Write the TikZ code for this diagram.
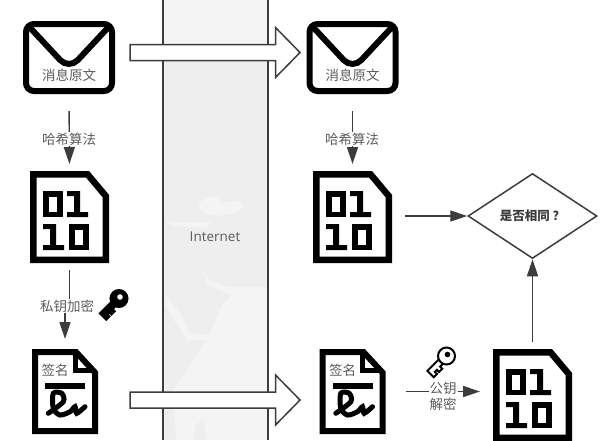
\documentclass[tikz,border=0pt]{standalone}
\usepackage{fontspec}
\setmainfont{Open Sans}
\newfontfamily\cjk{Noto Sans CJK SC}
\usetikzlibrary{positioning,arrows.meta,calc,shapes.geometric}
\definecolor{inkgray}{HTML}{3C3C3C}
\definecolor{textgray}{HTML}{5C5C5C}
\definecolor{seagray}{HTML}{EEEEEE}
\definecolor{landgray}{HTML}{F4F4F4}
\newcommand{\bitzero}[2]{\draw[line width=5.5pt] (#1+2.75,#2+2.75) rectangle (#1+17,#2+23.25);}
\newcommand{\bitone}[2]{\fill[shift={(#1,#2)}] (0,0) -- (13,0) -- (13,21) -- (21,21) -- (21,26) -- (0,26) -- (0,21) -- (7,21) -- (7,5) -- (0,5) -- cycle;}
\newcommand{\fatarrow}[2]{\draw[line width=1.5pt,draw=inkgray,fill=white,miter limit=8] ($(#1)+(0,-8)$) -- ($(#2)+(-24.5,-8)$) -- ($(#2)+(-24.5,-25)$) -- (#2) -- ($(#2)+(-24.5,25)$) -- ($(#2)+(-24.5,8)$) -- ($(#1)+(0,8)$) -- cycle;}
\tikzset{
  iconbox/.style={inner sep=0pt,outer sep=0pt},
  cjktext/.style={font=\cjk\fontsize{13.5}{16}\selectfont,text=textgray,inner sep=1pt},
  pics/mailicon/.style={code={
    \node[iconbox,minimum width=92pt,minimum height=73pt] (-box) at (0,0) {};
    \draw[line width=6pt,rounded corners=8pt] (-43,-33.5) rectangle (43,33.5);
    \draw[line width=6pt,rounded corners=13pt] (-41,-32) -- (0,12) -- (41,-32);
    \node[cjktext] (-name) at (0,18) {消息原文};
  }},
  pics/fileicon/.style={code={
    \node[iconbox,minimum width=79pt,minimum height=92pt] (-box) at (0,0) {};
    \draw[line width=6.5pt,miter limit=8] (-36.25,-42.75) -- (18,-42.75) -- (36.25,-21) -- (36.25,42.75) -- (-36.25,42.75) -- cycle;
    \bitzero{-26.5}{-26}
    \bitone{-2.5}{-26}
    \bitone{-26.5}{7}
    \bitzero{-0.5}{7}
  }},
  pics/signicon/.style={code={
    \node[iconbox,minimum width=66pt,minimum height=85pt] (-box) at (0,0) {};
    \draw[line width=6pt,miter limit=8] (-30,-39.5) -- (11,-39.5) -- (30,-19) -- (30,39.5) -- (-30,39.5) -- cycle;
    \draw[line width=5pt] (10,-38) -- (10,-21.5) -- (30,-21.5);
    \node[cjktext] (-name) at (-10,-21.5) {签名};
    \fill (-20,-8.5) rectangle (20,-2.5);
    \draw[line width=5pt,line cap=round] plot[smooth] coordinates {(-16.7,21.8) (-1.7,10.2) (-3.3,1.8) (-11.7,1.8) (-11.7,16.8) (-5,23.5) (5,20.2) (10,15.2) (11.7,21.8) (20,15.2)};
  }},
  pics/keyicon/.style 2 args={code={
    \draw[line width=2pt,fill=#1,rotate=225,line join=miter] (0,3) -- (24,3) -- (24,-6) -- (19.5,-6) -- (19.5,-3) -- (16.5,-3) -- (16.5,-6) -- (12,-6) -- (12,-3) -- (0,-3) -- cycle;
    \draw[line width=2pt,fill=#1] (0,0) circle (8.5);
    \fill[#2] (1,-1.5) circle (2.8);
  }}
}
\begin{document}
\begin{tikzpicture}[x=1pt,y=-1pt,>={Triangle[length=17pt,width=11pt]}]
\tikzstyle{flow}=[->,line width=1.4pt,draw=inkgray]
\tikzstyle{steplabel}=[cjktext,fill=white]
\useasboundingbox (0,0) rectangle (612,440);
\clip (0,0) rectangle (612,440);
\fill[white] (0,0) rectangle (612,440);

\fill[seagray] (163,0) rectangle (268,440);
\fill[landgray] (163,0) rectangle (268,62);
\fill[landgray] (198,205) .. controls (205,195) and (220,193) .. (222,203) .. controls (240,197) and (248,205) .. (238,212) .. controls (225,216) and (205,220) .. (198,205) -- cycle;
\fill[landgray] (165,222) -- (212,222) -- (205,228) -- (175,226) -- cycle;
\fill[landgray] (228,287) -- (267,287) -- (267,392) -- (172,392) -- (185,373) -- (198,353) -- (208,337) -- (222,305) -- (232,295) -- cycle;
\fill[landgray] (165,295) -- (178,310) -- (190,333) -- (208,335) -- (208,340) -- (187,340) -- (175,322) -- (165,305) -- cycle;
\fill[landgray] (202,270) -- (210,280) -- (228,287) -- (232,295) -- (208,286) -- cycle;
\fill[landgray] (174,408) -- (267,408) -- (267,440) -- (206,440) -- (204,420) -- (196,424) -- (193,440) -- (176,440) -- cycle;
\draw[line width=1.5pt,draw=inkgray] (163,0) -- (163,440) (268,0) -- (268,440);
\node[text=textgray,font=\fontsize{13.5}{16}\selectfont,inner sep=1pt] (net) at (215,237) {Internet};

\pic (mailA) at (69,57.5) {mailicon};
\pic (mailB) at (352.5,57.5) {mailicon};
\pic (fileA) at (69.5,217) {fileicon};
\pic (fileB) at (352.5,217) {fileicon};
\pic (fileC) at (532.5,395) {fileicon};
\pic (signA) at (65,391.5) {signicon};
\pic (signB) at (352.5,391.5) {signicon};
\pic (keyA) at (119,298.5) {keyicon={black}{white}};
\pic (keyB) at (446.5,356) {keyicon={white}{black}};
\node[diamond,draw=inkgray,line width=1.5pt,aspect=1.52,minimum width=129pt,minimum height=85pt,inner sep=0pt,font=\cjk\bfseries\fontsize{12.5}{15}\selectfont,text=inkgray] (same) at (532.5,216) {是否相同 ？};

\coordinate (fatA) at (130,52.5);
\coordinate (fatB) at (300,52.5);
\coordinate (fatC) at (130,400);
\coordinate (fatD) at (300,400);
\fatarrow{fatA}{fatB}
\fatarrow{fatC}{fatD}

\coordinate (lockmid) at (67,306);
\draw[flow,shorten <=17pt,shorten >=7pt] (mailA-box.south) -- (fileA-box.north);
\draw[flow,shorten <=17pt,shorten >=7pt] (mailB-box.south) -- (fileB-box.north);
\draw[flow,shorten <=7pt,shorten >=10pt] (fileA-box.south) -- (fileA-box.south |- lockmid) -- (signA-box.north |- lockmid) -- (signA-box.north);
\draw[flow,shorten <=13pt] (fileB-box.east |- same.west) -- (same.west);
\draw[flow,shorten <=7pt] (fileC-box.north) -- (same.south);
\draw[flow,shorten <=20pt,shorten >=13pt] (signB-box.east) -- (fileC-box.west |- signB-box.east);

\node[steplabel] (hashA) at (69,139) {哈希算法};
\node[steplabel] (hashB) at (352,139) {哈希算法};
\node[steplabel] (lockA) at (lockmid) {私钥加密};
\node[steplabel,align=center] (lockB) at (443,396) {公钥\\解密};
\end{tikzpicture}
\end{document}
